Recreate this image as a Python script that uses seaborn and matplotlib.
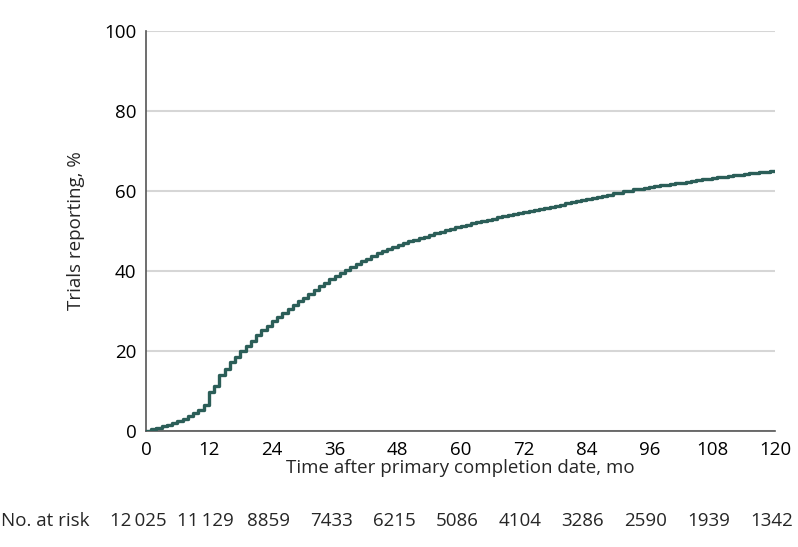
import numpy as np
import pandas as pd
import matplotlib
matplotlib.use("Agg")
import matplotlib.pyplot as plt
import seaborn as sns

# =======================
# data
# =======================
months = list(range(0, 121))
pct_reporting = [
    0.0, 0.4, 0.8, 1.2, 1.6, 2.0, 2.5, 3.1, 3.7, 4.4,
    5.2, 6.6, 9.8, 11.2, 13.9, 15.6, 17.3, 18.6, 20.0, 21.3,
    22.6, 23.9, 25.2, 26.3, 27.4, 28.5, 29.6, 30.6, 31.6, 32.5,
    33.3, 34.3, 35.3, 36.2, 37.1, 37.9, 38.7, 39.5, 40.3, 41.0,
    41.7, 42.4, 43.0, 43.7, 44.4, 45.0, 45.6, 46.1, 46.6, 47.0,
    47.4, 47.8, 48.2, 48.6, 49.0, 49.4, 49.8, 50.2, 50.6, 51.0,
    51.3, 51.6, 51.9, 52.2, 52.5, 52.8, 53.1, 53.4, 53.7, 54.0,
    54.3, 54.6, 54.8, 55.0, 55.3, 55.5, 55.7, 56.0, 56.3, 56.6,
    56.9, 57.2, 57.5, 57.8, 58.0, 58.2, 58.5, 58.8, 59.1, 59.4,
    59.6, 59.9, 60.1, 60.4, 60.6, 60.8, 61.0, 61.2, 61.4, 61.6,
    61.8, 62.0, 62.1, 62.3, 62.5, 62.7, 62.9, 63.1, 63.3, 63.5,
    63.6, 63.7, 63.9, 64.1, 64.3, 64.4, 64.6, 64.7, 64.8, 64.9,
    65.0,
]
x_ticks = list(range(0, 121, 12))
y_ticks = list(range(0, 101, 20))
at_risk = ["12\u2009025", "11\u2009129", "8859", "7433", "6215", "5086",
           "4104", "3286", "2590", "1939", "1342"]

df = pd.DataFrame({"month": months, "pct": pct_reporting})

# =======================
# style
# =======================
sns.set_style("white")
plt.rcParams["font.family"] = ["Open Sans", "DejaVu Sans"]
line_color = "#2b5e58"
axis_color = "#555555"
fs = 13.5

fig = plt.figure(figsize=(7.98, 5.47), dpi=100)
ax = fig.add_axes([146 / 798, 116 / 547, 629 / 798, 400 / 547])

sns.lineplot(data=df, x="month", y="pct", ax=ax, color=line_color,
             linewidth=2.4, drawstyle="steps-post", zorder=3)

ax.set_xlim(0, 120)
ax.set_ylim(0, 100)
ax.set_xticks(x_ticks)
ax.set_yticks(y_ticks)
ax.yaxis.grid(True, color="#d6d6d6", linewidth=1.5)
ax.xaxis.grid(False)
ax.set_axisbelow(True)

for side in ["top", "right"]:
    ax.spines[side].set_visible(False)
for side in ["left", "bottom"]:
    ax.spines[side].set_color(axis_color)
    ax.spines[side].set_linewidth(1.2)

ax.tick_params(axis="both", direction="out", length=6, width=1.2,
               color=axis_color, labelsize=fs, labelcolor="black", pad=1)

ax.set_xlabel("Time after primary completion date, mo", fontsize=fs, labelpad=0)
ax.set_ylabel("Trials reporting, %", fontsize=fs, labelpad=14)

# number at risk row (first count sits a little further left in the original)
trans = ax.get_xaxis_transform()
for i, (xt, n) in enumerate(zip(x_ticks, at_risk)):
    shift = -1.5 if i == 0 else -0.7
    ax.text(xt + shift, -0.225, n, transform=trans, ha="center", va="center",
            fontsize=fs, clip_on=False)
fig.text(1 / 798, 1 - 521 / 547, "No. at risk", ha="left", va="center",
         fontsize=fs)

fig.savefig("out.png", dpi=100)
